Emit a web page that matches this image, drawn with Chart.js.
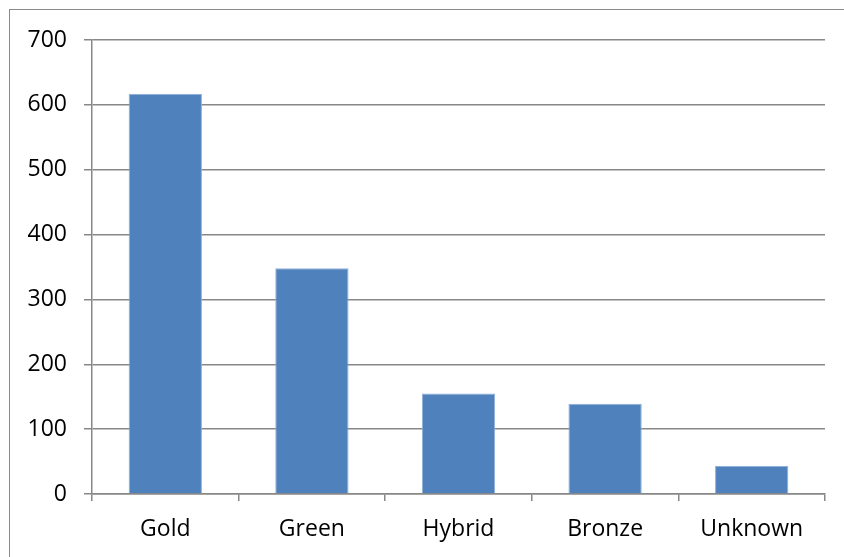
<!DOCTYPE html>
<html>
<head>
<meta charset="utf-8">
<script src="https://cdn.jsdelivr.net/npm/chart.js@4"></script>
<style>
  html, body { margin: 0; padding: 0; background: #fff; overflow: hidden; }
  #frame { position: absolute; left: 9px; top: 9px; width: 900px; height: 600px; border: 1.5px solid #8a8a8a; }
  #wrap { position: absolute; left: 0; top: 0; width: 844px; height: 557px; }
</style>
</head>
<body>
<div id="frame"></div>
<div id="wrap"><canvas id="typeChart" width="844" height="557"></canvas></div>
<script>
// certification types and their counts
const categories = ['Gold', 'Green', 'Hybrid', 'Bronze', 'Unknown'];
const counts     = [617, 348, 155, 139, 43];
const yTicks     = [0, 100, 200, 300, 400, 500, 600, 700];

const AXIS_COLOR = '#888888';
const LABEL_FONT = { family: "'Open Sans', 'Noto Sans', sans-serif", size: 23 };

new Chart(document.getElementById('typeChart'), {
  type: 'bar',
  data: {
    labels: categories,
    datasets: [{
      data: counts,
      backgroundColor: '#4f81bd',
      borderColor: '#8fb0da',
      borderWidth: 1,
      borderSkipped: 'start',
      barPercentage: 0.5,
      categoryPercentage: 1,
    }],
  },
  options: {
    responsive: false,
    animation: false,
    layout: { padding: { top: 40, right: 19, left: 0, bottom: 0 } },
    plugins: { legend: { display: false }, tooltip: { enabled: false } },
    scales: {
      x: {
        afterFit: s => { s.height = 63; },
        grid: { drawOnChartArea: false, drawTicks: true, tickLength: 7, color: AXIS_COLOR, lineWidth: 1.5 },
        border: { display: true, color: AXIS_COLOR, width: 1.5 },
        ticks: { color: '#000', font: LABEL_FONT, padding: 15 },
      },
      y: {
        min: 0, max: 700,
        afterFit: s => { s.width = 92; },
        afterBuildTicks: s => { s.ticks = yTicks.map(v => ({ value: v })); },
        grid: { color: AXIS_COLOR, lineWidth: 1.5, tickLength: 8 },
        border: { display: true, color: AXIS_COLOR, width: 1.5 },
        ticks: { color: '#000', font: LABEL_FONT, padding: 17 },
      },
    },
  },
});
</script>
</body>
</html>
